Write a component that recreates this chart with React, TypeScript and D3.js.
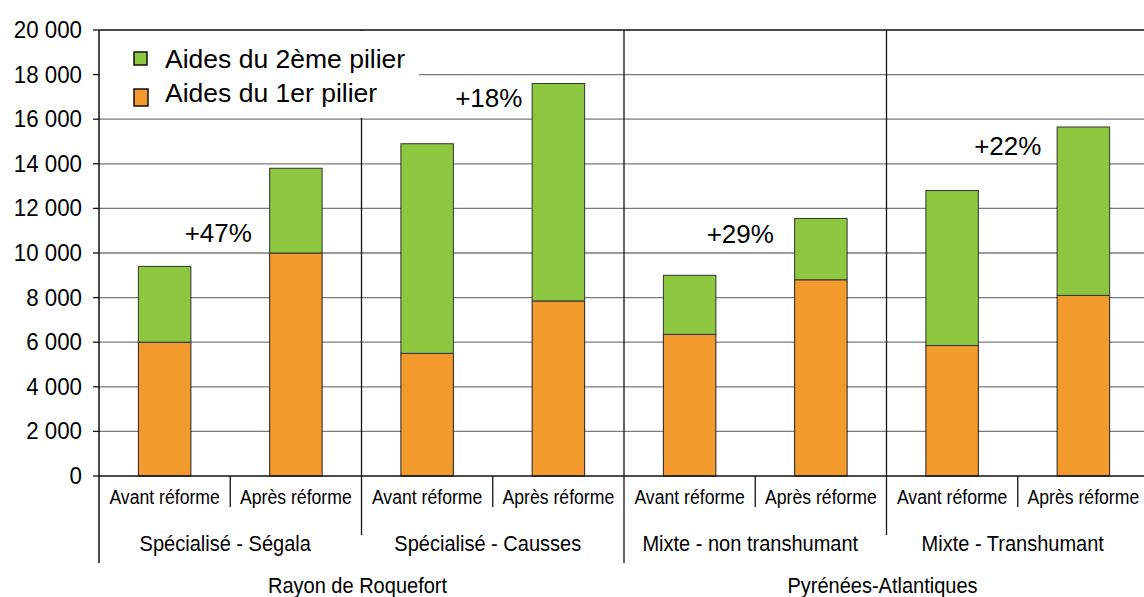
import React from "react";
import * as d3 from "d3";

// données (euros par exploitation)
const regions = ["Rayon de Roquefort", "Pyrénées-Atlantiques"];
const groupes = ["Spécialisé - Ségala", "Spécialisé - Causses", "Mixte - non transhumant", "Mixte - Transhumant"];
const periodes = ["Avant réforme", "Après réforme"];
const pilier1 = [6000, 10000, 5500, 7850, 6350, 8800, 5850, 8100];
const pilier2 = [3400, 3800, 9400, 9750, 2650, 2750, 6950, 7550];
const hausses = ["+47%", "+18%", "+29%", "+22%"];
const yTicks = [0, 2000, 4000, 6000, 8000, 10000, 12000, 14000, 16000, 18000, 20000];
const legende = ["Aides du 2ème pilier", "Aides du 1er pilier"];

const VERT = "#8dc63f";
const ORANGE = "#f39a2e";
const FONT = "'Liberation Sans', Arial, sans-serif";

// petits décalages des étiquettes de hausse (px), comme posées à la main sur l'original
const nudgeX = [-2, 6, -5, 0];
const nudgeY = [-24, -37, -32, -36];

export default function App() {
  const width = 1144;
  const height = 597;
  const left = 99;
  const right = 1149;
  const top = 30;
  const bottom = 476;

  const y = d3.scaleLinear().domain([0, 20000]).range([bottom, top]);
  const x = d3
    .scaleBand<number>()
    .domain(d3.range(pilier1.length))
    .range([left, right])
    .paddingInner(0.6)
    .paddingOuter(0.3);
  const step = x.step();
  const slotStart = (i: number) => left + i * step;

  const fmt = (v: number) => d3.format(",")(v).replace(/,/g, " ");

  const label = (
    key: string,
    tx: number,
    ty: number,
    txt: string,
    size: number,
    sx: number,
    anchor: string
  ) => (
    <text
      key={key}
      transform={`translate(${tx},${ty}) scale(${sx},1)`}
      fontSize={size}
      textAnchor={anchor}
      fill="#000"
    >
      {txt}
    </text>
  );

  return (
    <svg
      width={width}
      height={height}
      style={{ position: "absolute", left: 0, top: 0, background: "#fff" }}
      fontFamily={FONT}
    >
      {/* grille */}
      {yTicks.slice(1, -1).map((t) => (
        <line key={"g" + t} x1={left} x2={width} y1={y(t)} y2={y(t)} stroke="#7a7a7a" strokeWidth={1.3} />
      ))}
      <line x1={left} x2={width} y1={y(20000)} y2={y(20000)} stroke="#111" strokeWidth={1.3} />

      {/* séparateurs verticaux */}
      {d3.range(1, groupes.length).map((g) => {
        const xx = slotStart(g * 2);
        const isRegion = g === 2;
        return (
          <line key={"v" + g} x1={xx} x2={xx} y1={top} y2={isRegion ? 563 : 535} stroke="#111" strokeWidth={1.3} />
        );
      })}
      {d3.range(groupes.length).map((g) => {
        const xx = slotStart(g * 2 + 1);
        return <line key={"s" + g} x1={xx} x2={xx} y1={bottom} y2={507} stroke="#111" strokeWidth={1.3} />;
      })}

      {/* barres */}
      {pilier1.map((v, i) => (
        <g key={"b" + i}>
          <rect
            x={x(i)}
            width={x.bandwidth()}
            y={y(v)}
            height={y(0) - y(v)}
            fill={ORANGE}
            stroke="#222"
            strokeWidth={1}
          />
          <rect
            x={x(i)}
            width={x.bandwidth()}
            y={y(v + pilier2[i])}
            height={y(v) - y(v + pilier2[i])}
            fill={VERT}
            stroke="#333"
            strokeWidth={1}
          />
        </g>
      ))}

      {/* légende */}
      <rect x={left + 1} y={top + 1} width={319} height={87} fill="#fff" />
      <rect x={134} y={52} width={13} height={13} fill={VERT} stroke="#111" strokeWidth={1.5} />
      <rect x={134} y={89} width={14} height={17} fill={ORANGE} stroke="#111" strokeWidth={1.5} />
      {legende.map((t, i) => (
        <text key={t} x={165} y={68 + i * 34} fontSize={26.5} fill="#000">
          {t}
        </text>
      ))}

      {/* hausses */}
      {hausses.map((h, g) => {
        const a = g * 2;
        const cx = (x(a)! + x(a + 1)!) / 2 + x.bandwidth() / 2 - 10 + nudgeX[g];
        const cy = y(pilier1[a] + pilier2[a]) + nudgeY[g];
        return (
          <text key={h} x={cx} y={cy} fontSize={26} textAnchor="middle" fill="#000">
            {h}
          </text>
        );
      })}

      {/* axe y */}
      <line x1={left} x2={left} y1={top} y2={563} stroke="#111" strokeWidth={1.5} />
      <line x1={left} x2={width} y1={bottom} y2={bottom} stroke="#111" strokeWidth={1.5} />
      {yTicks.map((t) => (
        <g key={"t" + t}>
          <line x1={left - 6} x2={left} y1={y(t)} y2={y(t)} stroke="#111" strokeWidth={1.3} />
          {label("l" + t, 82, y(t) + 8, fmt(t), 23.5, 0.95, "end")}
        </g>
      ))}

      {/* étiquettes de catégories */}
      {pilier1.map((_, i) =>
        label("c" + i, slotStart(i) + step / 2, 504, periodes[i % 2], 21, 0.84, "middle")
      )}
      {groupes.map((gname, g) =>
        label("gr" + g, slotStart(g * 2) + step - 5, 551, gname, 22.5, 0.89, "middle")
      )}
      {regions.map((r, k) =>
        label("r" + k, slotStart(k * 4) + step * 2 - 4, 593, r, 22.5, 0.89, "middle")
      )}
    </svg>
  );
}
